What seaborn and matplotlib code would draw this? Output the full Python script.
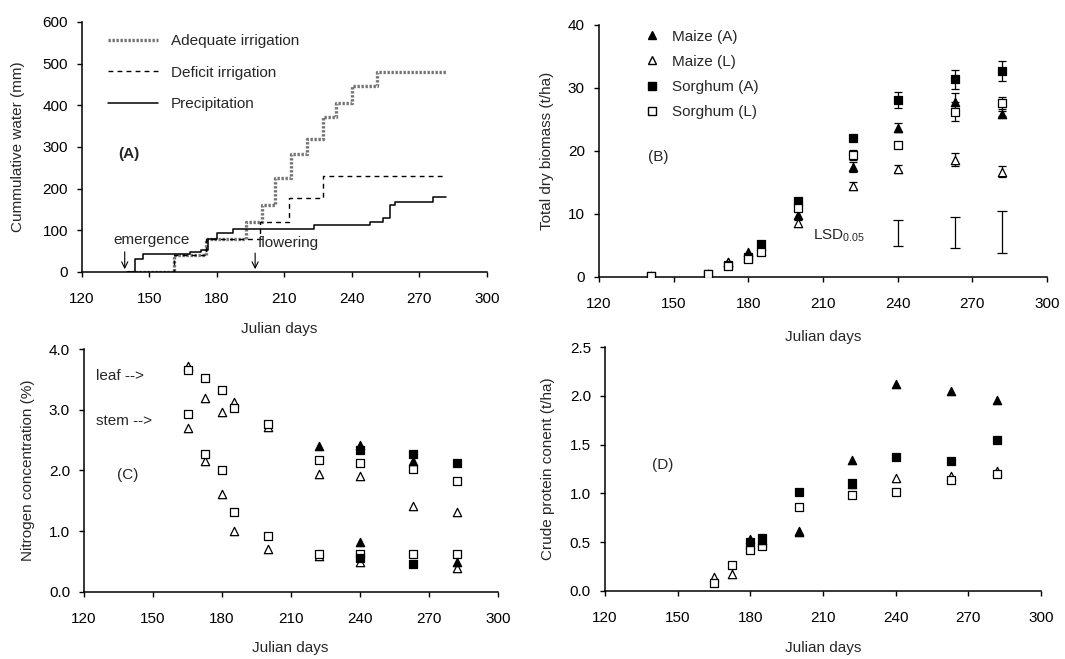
import numpy as np
import matplotlib
matplotlib.use("Agg")
import matplotlib.pyplot as plt
from matplotlib.lines import Line2D
import seaborn as sns

# (A) cumulative water, step series
adequate_days = [140, 161, 175, 193, 200, 206, 213, 220, 227, 233, 240, 251, 282]
adequate_mm = [0, 40, 80, 120, 160, 225, 283, 320, 372, 405, 447, 480, 480]
deficit_days = [140, 161, 175, 199, 212, 227, 282]
deficit_mm = [0, 40, 80, 120, 178, 230, 230]
precip_days = [140, 143.5, 147, 168, 173, 176, 180, 187, 223, 248, 254, 257, 259, 276, 282]
precip_mm = [0, 31, 42, 47, 52, 80, 93, 102, 112, 121, 130, 160, 168, 179, 179]
emergence_day = 139
flowering_day = 197

# (B) total dry biomass (t/ha)
days_b = [141, 164, 172, 180, 185, 200, 222, 240, 263, 282]
maize_a_bio = [0.2, 0.5, 2.3, 3.9, 4.9, 9.8, 17.4, 23.7, 27.8, 25.9]
maize_l_bio = [0.2, 0.5, 2.4, 3.0, 4.2, 8.5, 14.5, 17.2, 18.6, 16.7]
sorghum_a_bio = [0.2, 0.5, 1.9, 3.2, 5.2, 12.0, 22.1, 28.1, 31.4, 32.7]
sorghum_l_bio = [0.2, 0.5, 1.7, 2.8, 3.9, 11.0, 19.3, 21.0, 26.2, 27.6]
maize_a_err = [0, 0, 0, 0, 0, 0.8, 0.8, 0.7, 1.4, 0.4]
maize_l_err = [0, 0, 0, 0, 0, 0, 0.5, 0.6, 1.0, 0.9]
sorghum_a_err = [0, 0, 0, 0, 0, 0, 0, 1.3, 1.5, 1.6]
sorghum_l_err = [0, 0, 0, 0, 0, 0, 0.8, 0.5, 1.5, 1.0]
lsd_days = [240, 263, 282]
lsd_low = [4.9, 4.6, 3.8]
lsd_high = [9.0, 9.5, 10.4]

# (C) nitrogen concentration (%)
nan = np.nan
days_c = [165, 172.5, 180, 185, 200, 222, 240, 263, 282]
maize_l_leaf = [3.72, 3.2, 2.97, 3.13, 2.72, 1.94, 1.91, 1.42, 1.31]
sorghum_l_leaf = [3.65, 3.52, 3.33, 3.03, 2.77, 2.17, 2.12, 2.03, 1.83]
maize_a_leaf = [nan, nan, nan, nan, nan, 2.4, 2.42, 2.15, nan]
sorghum_a_leaf = [nan, nan, nan, nan, nan, nan, 2.33, 2.27, 2.12]
maize_l_stem = [2.7, 2.16, 1.61, 1.0, 0.7, 0.6, 0.5, nan, 0.4]
sorghum_l_stem = [2.93, 2.27, 2.0, 1.32, 0.92, 0.62, 0.63, 0.63, 0.63]
maize_a_stem = [nan, nan, nan, nan, nan, nan, 0.82, nan, 0.5]
sorghum_a_stem = [nan, nan, nan, nan, nan, nan, 0.56, 0.46, nan]

# (D) crude protein (t/ha)
days_d = [165, 172.5, 180, 185, 200, 222, 240, 263, 282]
maize_a_cp = [nan, nan, 0.53, 0.52, 0.62, 1.34, 2.12, 2.05, 1.96]
maize_l_cp = [0.14, 0.17, 0.48, 0.5, 0.6, 1.1, 1.16, 1.18, 1.23]
sorghum_a_cp = [nan, nan, 0.5, 0.54, 1.01, 1.11, 1.37, 1.33, 1.55]
sorghum_l_cp = [0.08, 0.27, 0.42, 0.46, 0.86, 0.98, 1.02, 1.14, 1.2]

x_ticks = [120, 150, 180, 210, 240, 270, 300]

sns.set_style("ticks")
plt.rcParams["font.family"] = ["Liberation Sans", "DejaVu Sans"]
plt.rcParams["font.size"] = 11
plt.rcParams["axes.linewidth"] = 1.1

fig = plt.figure(figsize=(10.65, 6.59), dpi=100)


def style_axes(ax, ylim, yticks, ylabel, fmt=None):
    ax.set_xlim(120, 300)
    ax.set_ylim(*ylim)
    ax.set_xticks(x_ticks)
    ax.set_yticks(yticks)
    if fmt:
        ax.set_yticklabels([fmt.format(t) for t in yticks])
    ax.tick_params(direction="out", length=3.6, width=1, labelsize=11, colors="black")
    ax.tick_params(axis="x", pad=10.5)
    ax.tick_params(axis="y", pad=6.5)
    for s in ["top", "right"]:
        ax.spines[s].set_visible(False)
    for s in ["left", "bottom"]:
        ax.spines[s].set_color("black")
    ax.set_xlabel("Julian days", fontsize=11)
    ax.set_ylabel(ylabel, fontsize=11)


def points(ax, x, y, marker, filled, s=34):
    sns.scatterplot(x=x, y=y, marker=marker, s=s,
                    color="black" if filled else "white",
                    edgecolor="black", linewidth=0.9, ax=ax, zorder=3)


# ---------- (A)
axA = fig.add_axes([0.077, 0.5873, 0.380, 0.3794])
ls_adequate = (0, (0.7, 0.5))
ls_deficit = (0, (3.5, 3))
sns.lineplot(x=adequate_days, y=adequate_mm, drawstyle="steps-post", estimator=None,
             sort=False, color="0.45", lw=2.4, linestyle=ls_adequate, ax=axA)
sns.lineplot(x=deficit_days, y=deficit_mm, drawstyle="steps-post", estimator=None,
             sort=False, color="black", lw=1.0, linestyle=ls_deficit, ax=axA)
sns.lineplot(x=precip_days, y=precip_mm, drawstyle="steps-post", estimator=None,
             sort=False, color="black", lw=1.1, ax=axA)
style_axes(axA, (0, 600), [0, 100, 200, 300, 400, 500, 600], "Cummulative water (mm)")
handles = [Line2D([], [], color="0.45", lw=2.4, linestyle=ls_adequate),
           Line2D([], [], color="black", lw=1.0, linestyle=ls_deficit),
           Line2D([], [], color="black", lw=1.1)]
axA.legend(handles, ["Adequate irrigation", "Deficit irrigation", "Precipitation"],
           loc="upper left", bbox_to_anchor=(0.03, 1.006), frameon=False, fontsize=11,
           handlelength=3.3, handletextpad=0.8, labelspacing=1.15)
axA.text(136, 283, "(A)", fontsize=11, fontweight="bold", va="center")
axA.annotate("", xy=(emergence_day, 0), xytext=(emergence_day, 55),
             arrowprops=dict(arrowstyle="->", lw=0.8, color="black"))
axA.annotate("", xy=(flowering_day, 0), xytext=(flowering_day, 52),
             arrowprops=dict(arrowstyle="->", lw=0.8, color="black"))
axA.text(133.8, 76, "emergence", fontsize=11, va="center")
axA.text(198, 69, "flowering", fontsize=11, va="center")

# ---------- (B)
axB = fig.add_axes([0.5624, 0.5797, 0.4207, 0.3824])
series_b = [(maize_a_bio, maize_a_err, "^", True),
            (maize_l_bio, maize_l_err, "^", False),
            (sorghum_a_bio, sorghum_a_err, "s", True),
            (sorghum_l_bio, sorghum_l_err, "s", False)]
for vals, err, mk, filled in series_b:
    idx = [i for i, e in enumerate(err) if e > 0]
    axB.errorbar([days_b[i] for i in idx], [vals[i] for i in idx],
                 yerr=[err[i] for i in idx], fmt="none", ecolor="black",
                 elinewidth=0.9, capsize=3, capthick=0.9, zorder=2)
for vals, err, mk, filled in series_b:
    points(axB, days_b, vals, mk, filled, s=32 if mk == "s" else 36)
lsd_mid = [(a + b) / 2 for a, b in zip(lsd_low, lsd_high)]
lsd_half = [(b - a) / 2 for a, b in zip(lsd_low, lsd_high)]
axB.errorbar(lsd_days, lsd_mid, yerr=lsd_half, fmt="none", ecolor="black",
             elinewidth=0.9, capsize=3.5, capthick=0.9)
axB.text(206, 6.5, r"LSD$_{\mathregular{0.05}}$", fontsize=11, va="center")
style_axes(axB, (0, 40), [0, 10, 20, 30, 40], "Total dry biomass (t/ha)")
hb = [Line2D([], [], marker="^", ls="none", color="black", mec="black", ms=6),
      Line2D([], [], marker="^", ls="none", color="white", mec="black", ms=6),
      Line2D([], [], marker="s", ls="none", color="black", mec="black", ms=5.5),
      Line2D([], [], marker="s", ls="none", color="white", mec="black", ms=5.5)]
axB.legend(hb, ["Maize (A)", "Maize (L)", "Sorghum (A)", "Sorghum (L)"],
           loc="upper left", bbox_to_anchor=(0.07, 1.036), frameon=False, fontsize=11,
           handlelength=1.0, handletextpad=0.8, labelspacing=0.73)
axB.text(139.7, 19, "(B)", fontsize=11, va="center")

# ---------- (C)
axC = fig.add_axes([0.0789, 0.1017, 0.3887, 0.3687])
for vals, mk, filled in [(maize_l_leaf, "^", False), (sorghum_l_leaf, "s", False),
                         (maize_l_stem, "^", False), (sorghum_l_stem, "s", False),
                         (sorghum_a_leaf, "s", True), (maize_a_leaf, "^", True),
                         (sorghum_a_stem, "s", True), (maize_a_stem, "^", True)]:
    points(axC, days_c, vals, mk, filled, s=32 if mk == "s" else 36)
style_axes(axC, (0, 4), [0, 1, 2, 3, 4], "Nitrogen concentration (%)", "{:.1f}")
axC.text(125.2, 3.56, "leaf -->", fontsize=11, va="center")
axC.text(125.2, 2.82, "stem -->", fontsize=11, va="center")
axC.text(134.3, 1.93, "(C)", fontsize=11, va="center")

# ---------- (D)
axD = fig.add_axes([0.568, 0.1032, 0.4094, 0.370])
for vals, mk, filled in [(maize_l_cp, "^", False), (sorghum_l_cp, "s", False),
                         (sorghum_a_cp, "s", True), (maize_a_cp, "^", True)]:
    points(axD, days_d, vals, mk, filled, s=32 if mk == "s" else 36)
style_axes(axD, (0, 2.5), [0, 0.5, 1.0, 1.5, 2.0, 2.5], "Crude protein conent (t/ha)", "{:.1f}")
axD.text(139.3, 1.29, "(D)", fontsize=11, va="center")

# label positions
for ax, xl, yl in [(axA, (0.486, -0.228), (-0.158, 0.5)),
                   (axB, (0.50, -0.237), (-0.116, 0.5)),
                   (axC, (0.497, -0.230), (-0.135, 0.5)),
                   (axD, (0.50, -0.234), (-0.131, 0.5))]:
    ax.xaxis.set_label_coords(*xl)
    ax.xaxis.label.set_va("center")
    ax.yaxis.set_label_coords(*yl)
    ax.yaxis.label.set_va("center")

fig.savefig("out.png", dpi=100)
